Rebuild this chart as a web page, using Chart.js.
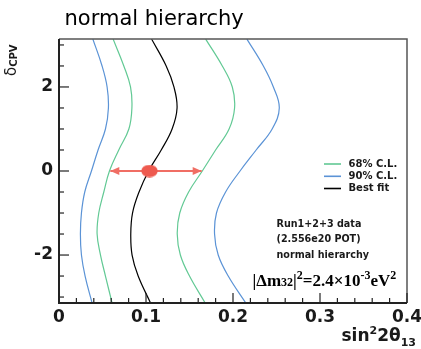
<!DOCTYPE html>
<html><head><meta charset="utf-8">
<script src="https://cdn.jsdelivr.net/npm/chart.js@4.4.1/dist/chart.umd.min.js"></script>
<style>html,body{margin:0;padding:0;background:#fff;}#wrap{position:relative;width:421px;height:349px;}</style>
</head><body><div id="wrap"><canvas id="c"></canvas></div>
<script>
// ---- data ----
const deltaCP     = [-3.14, -2.5, -2.0, -1.5, -1.0, -0.5, 0, 0.5, 1.0, 1.5, 2.0, 2.5, 3.14];
const cl90Left    = [0.038, 0.030, 0.0258, 0.0246, 0.0258, 0.0296, 0.0373, 0.0449, 0.0534, 0.0568, 0.0553, 0.0495, 0.0389];
const cl68Left    = [0.061, 0.0534, 0.0477, 0.0438, 0.0457, 0.0515, 0.058, 0.0687, 0.0803, 0.0838, 0.0822, 0.0745, 0.0622];
const bestFitLine = [0.1052, 0.091, 0.084, 0.0825, 0.0845, 0.092, 0.103, 0.1175, 0.130, 0.1357, 0.1321, 0.1232, 0.1064];
const cl68Right   = [0.168, 0.150, 0.1395, 0.1359, 0.1388, 0.149, 0.1647, 0.180, 0.1955, 0.2018, 0.1992, 0.1877, 0.1686];
const cl90Right   = [0.2146, 0.1945, 0.183, 0.1788, 0.181, 0.1915, 0.2081, 0.2266, 0.245, 0.2532, 0.2464, 0.2349, 0.216];
const bestFitX = [0.104];
const bestFitY = [0];
const bestFitErr = [0.059, 0.164];
const xTickValues = [0, 0.1, 0.2, 0.3, 0.4];
const xTickLabels = ['0', '0.1', '0.2', '0.3', '0.4'];
const yTickValues = [-2, 0, 2];
const yTickLabels = ['-2', '0', '2'];
const legendLabels = ['68% C.L.', '90% C.L.', 'Best fit'];
const infoLines = ['Run1+2+3 data', '(2.556e20 POT)', 'normal hierarchy'];
const titleText = 'normal hierarchy';

// ---- styles ----
const GREEN = '#62c994';
const BLUE = '#5b93d6';
const BLACK = '#000000';
const RED = '#ee5a4f';
const ARROW = '#f06e64';
const TXT = '#1a1a1a';
const SANS = '"DejaVu Sans", sans-serif';
const SERIF = '"Liberation Serif", "Times New Roman", serif';

const pts = xs => xs.map((x, i) => ({x: x, y: deltaCP[i]}));

const ell = document.createElement('canvas');
ell.width = 17; ell.height = 13;
(function(){ const e = ell.getContext('2d'); e.fillStyle = RED; e.beginPath(); e.ellipse(8.5, 6.5, 8.2, 6.2, 0, 0, Math.PI * 2); e.fill(); })();

function curve(label, xs, color, order) {
  return {label: label, data: pts(xs), showLine: true, borderColor: color, backgroundColor: color,
          borderWidth: 1.2, pointRadius: 0, pointHoverRadius: 0, tension: 0.4, fill: false, order: order};
}

const datasets = [
  {label: 'bestfit', data: bestFitX.map((x, i) => ({x: x, y: bestFitY[i]})), pointStyle: ell, pointRadius: 8, order: 0, showLine: false},
  {label: 'err', data: [{x: bestFitErr[0], y: bestFitY[0]}, {x: bestFitErr[1], y: bestFitY[0]}], showLine: true,
   borderColor: ARROW, borderWidth: 2, pointRadius: 0, order: 1},
  curve(legendLabels[0], cl68Left, GREEN, 3),
  curve(legendLabels[0], cl68Right, GREEN, 3),
  curve(legendLabels[1], cl90Left, BLUE, 4),
  curve(legendLabels[1], cl90Right, BLUE, 4),
  curve(legendLabels[2], bestFitLine, BLACK, 2)
];

const legendColors = [GREEN, BLUE, BLACK];

function drawRich(ctx, x, y, parts, align) {
  // parts: [text, font, dy]
  let total = 0;
  parts.forEach(p => { ctx.font = p[1]; total += ctx.measureText(p[0]).width; });
  let cx = align === 'right' ? x - total : x;
  ctx.textAlign = 'left'; ctx.textBaseline = 'alphabetic';
  parts.forEach(p => { ctx.font = p[1]; ctx.fillText(p[0], cx, y + p[2]); cx += ctx.measureText(p[0]).width; });
}

const decor = {
  id: 'decor',
  afterDatasetsDraw(chart) {
    const ctx = chart.ctx, xs = chart.scales.x, ys = chart.scales.y, a = chart.chartArea;
    ctx.save();
    // arrow heads
    const yy = ys.getPixelForValue(bestFitY[0]);
    const xl = xs.getPixelForValue(bestFitErr[0]), xr = xs.getPixelForValue(bestFitErr[1]);
    ctx.fillStyle = ARROW;
    ctx.beginPath(); ctx.moveTo(xl, yy); ctx.lineTo(xl + 9, yy - 4); ctx.lineTo(xl + 9, yy + 4); ctx.closePath(); ctx.fill();
    ctx.beginPath(); ctx.moveTo(xr, yy); ctx.lineTo(xr - 9, yy - 4); ctx.lineTo(xr - 9, yy + 4); ctx.closePath(); ctx.fill();
    // frame
    ctx.strokeStyle = '#555'; ctx.lineWidth = 1.5;
    ctx.beginPath(); ctx.moveTo(a.left, a.top); ctx.lineTo(a.right, a.top); ctx.lineTo(a.right, a.bottom); ctx.stroke();
    ctx.strokeStyle = '#222'; ctx.lineWidth = 2;
    ctx.beginPath(); ctx.moveTo(a.left, a.top); ctx.lineTo(a.left, a.bottom); ctx.lineTo(a.right, a.bottom); ctx.stroke();
    // ticks (inside)
    ctx.lineWidth = 1.2; ctx.strokeStyle = '#222';
    for (let i = 0; i <= 20; i++) {
      const v = xs.min + (xs.max - xs.min) * i / 20;
      const px = xs.getPixelForValue(v);
      const len = (i % 5 === 0) ? 10 : 5;
      ctx.beginPath(); ctx.moveTo(px, a.bottom); ctx.lineTo(px, a.bottom - len); ctx.stroke();
    }
    for (let k = -6; k <= 6; k++) {
      const v = k * 0.5;
      const py = ys.getPixelForValue(v);
      const len = (k % 4 === 0) ? 10 : 5;
      ctx.beginPath(); ctx.moveTo(a.left, py); ctx.lineTo(a.left + len, py); ctx.stroke();
    }
    // legend
    const ly = [164, 176.3, 188.5];
    legendLabels.forEach((t, i) => {
      ctx.strokeStyle = legendColors[i]; ctx.lineWidth = 1.6;
      ctx.beginPath(); ctx.moveTo(324, ly[i]); ctx.lineTo(341, ly[i]); ctx.stroke();
      ctx.fillStyle = TXT; ctx.font = 'bold 10px ' + SANS; ctx.textAlign = 'left'; ctx.textBaseline = 'middle';
      ctx.fillText(t, 348.5, ly[i]);
    });
    // info text
    const iy = [224.5, 239, 255.5];
    ctx.font = 'bold 9.6px ' + SANS;
    infoLines.forEach((t, i) => ctx.fillText(t, 276.5, iy[i]));
    // formula
    ctx.fillStyle = '#000';
    const F = 'bold 17px ' + SERIF, f = 'bold 12px ' + SERIF;
    drawRich(ctx, 252.5, 286, [['|\u0394m', F, 0], ['32', f, 0], ['|', F, 0], ['2', f, -7], ['=2.4\u00d710', F, 0], ['-3', f, -7], ['eV', F, 0], ['2', f, -7]], 'left');
    // title
    ctx.fillStyle = '#000';
    ctx.font = '21px ' + SANS; ctx.textAlign = 'left'; ctx.textBaseline = 'alphabetic';
    ctx.fillText(titleText, 64.5, 25);
    // x title
    ctx.fillStyle = TXT;
    drawRich(ctx, 416, 341, [['sin', 'bold 17px ' + SANS, 0], ['2', 'bold 11px ' + SANS, -7], ['2\u03b8', 'bold 17px ' + SANS, 0], ['13', 'bold 11px ' + SANS, 5]], 'right');
    // y title (rotated)
    ctx.save();
    ctx.translate(15.5, 76); ctx.rotate(-Math.PI / 2);
    drawRich(ctx, 0, 0, [['\u03b4', '15px ' + SANS, 0], ['CPV', 'bold 10px ' + SANS, 1]], 'left');
    ctx.restore();
    ctx.restore();
  }
};

new Chart(document.getElementById('c'), {
  type: 'scatter',
  data: {datasets: datasets},
  options: {
    responsive: true, maintainAspectRatio: false, animation: false,
    layout: {padding: {top: 39, right: 14, left: 0, bottom: 0}},
    plugins: {legend: {display: false}, tooltip: {enabled: false}, title: {display: false}},
    scales: {
      x: {
        type: 'linear', min: 0, max: 0.4,
        afterBuildTicks: s => { s.ticks = xTickValues.map(v => ({value: v})); },
        afterFit: s => { s.height = 46; s.paddingLeft = 0; s.paddingRight = 0; },
        grid: {display: false, drawTicks: false}, border: {display: false},
        ticks: {padding: 4, color: TXT, font: {family: SANS, size: 17, weight: 'bold'},
                callback: (v, i) => xTickLabels[i], maxRotation: 0, autoSkip: false}
      },
      y: {
        type: 'linear', min: -Math.PI, max: Math.PI,
        afterBuildTicks: s => { s.ticks = yTickValues.map(v => ({value: v})); },
        afterFit: s => { s.width = 59; s.paddingTop = 0; s.paddingBottom = 0; },
        grid: {display: false, drawTicks: false}, border: {display: false},
        ticks: {padding: 6, color: TXT, font: {family: SANS, size: 17, weight: 'bold'},
                callback: (v, i) => yTickLabels[i], autoSkip: false}
      }
    }
  },
  plugins: [decor]
});
</script>
</body></html>
